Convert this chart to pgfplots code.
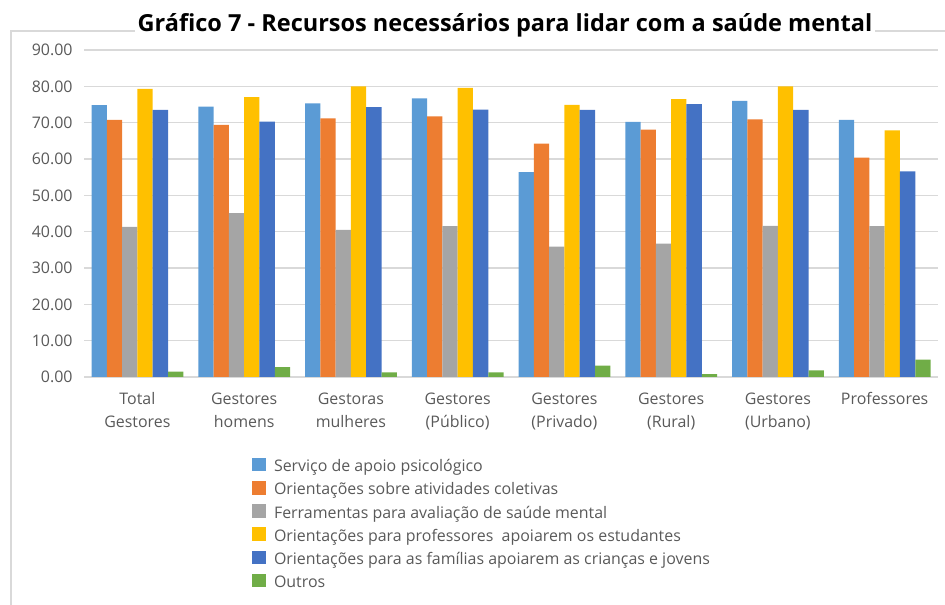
\documentclass[border=0pt]{standalone}
\usepackage{pgfplots}
\pgfplotsset{compat=1.18}
\usepackage{fontspec}
\setmainfont{Open Sans}
\newfontfamily\titlefont{Open Sans}
\definecolor{c1}{HTML}{5B9BD5}
\definecolor{c2}{HTML}{ED7D31}
\definecolor{c3}{HTML}{A5A5A5}
\definecolor{c4}{HTML}{FFC000}
\definecolor{c5}{HTML}{4472C4}
\definecolor{c6}{HTML}{70AD47}
\definecolor{tickc}{HTML}{595959}
\definecolor{gridc}{HTML}{D9D9D9}
\begin{document}
\begin{tikzpicture}
\useasboundingbox (0bp,0bp) rectangle (945bp,605bp);
\draw[gridc, line width=1.2bp] (11bp,0bp) -- (11bp,574bp) -- (960bp,574bp);
\node[fill=white, inner sep=3bp, anchor=base] at (505bp,573bp) {\titlefont\fontsize{23.6}{26}\selectfont\bfseries Gráfico 7 - Recursos necessários para lidar com a saúde mental};
\begin{axis}[
  at={(137.4bp,228bp)}, anchor=origin,
  scale only axis, width=854bp, height=327bp,
  xmin=-0.5, xmax=7.5, ymin=0, ymax=90,
  ybar=0pt, bar width=15.3bp,
  ytick={0,10,...,90},
  xtick={0,...,7},
  xticklabels={Total\\Gestores, Gestores\\homens, Gestoras\\mulheres, Gestores\\(Público), Gestores\\(Privado), Gestores\\(Rural), Gestores\\(Urbano), Professores},
  xticklabel style={align=center, font=\fontsize{16}{23}\selectfont, text=tickc, yshift=-8bp},
  yticklabel style={font=\fontsize{16}{18}\selectfont, text=tickc, xshift=-8bp},
  /pgf/number format/.cd, fixed, fixed zerofill, precision=2, assume math mode=true,
  /pgfplots/.cd,
  axis line style={draw=none},
  major tick style={draw=none},
  ymajorgrids, major grid style={color=gridc, line width=1.3bp},
  legend style={at={(0.1965,-0.246)}, anchor=north west, draw=none, fill=none,
    font=\fontsize{16}{18}\selectfont, text=tickc, row sep=5.5bp, inner sep=0pt,
    /tikz/every odd column/.append style={column sep=6bp}},
  legend cell align=left,
  legend image code/.code={\fill[#1] (0bp,-5bp) rectangle (14bp,8.5bp);},
]
\addplot[fill=c1, draw=none] coordinates {(0,74.8) (1,74.4) (2,75.3) (3,76.7) (4,56.4) (5,70.2) (6,76.0) (7,70.8)};
\addplot[fill=c2, draw=none] coordinates {(0,70.8) (1,69.4) (2,71.2) (3,71.7) (4,64.2) (5,68.1) (6,70.9) (7,60.4)};
\addplot[fill=c3, draw=none] coordinates {(0,41.3) (1,45.1) (2,40.5) (3,41.5) (4,35.9) (5,36.7) (6,41.6) (7,41.5)};
\addplot[fill=c4, draw=none] coordinates {(0,79.3) (1,77.0) (2,80.0) (3,79.6) (4,74.9) (5,76.5) (6,80.0) (7,67.9)};
\addplot[fill=c5, draw=none] coordinates {(0,73.5) (1,70.3) (2,74.3) (3,73.6) (4,73.5) (5,75.1) (6,73.5) (7,56.6)};
\addplot[fill=c6, draw=none] coordinates {(0,1.5) (1,2.7) (2,1.3) (3,1.3) (4,3.1) (5,0.8) (6,1.8) (7,4.8)};
\legend{Serviço de apoio psicológico, Orientações sobre atividades coletivas, Ferramentas para avaliação de saúde mental, Orientações para professores\ \ apoiarem os estudantes, Orientações para as famílias apoiarem as crianças e jovens, Outros}
\end{axis}
\end{tikzpicture}
\end{document}
